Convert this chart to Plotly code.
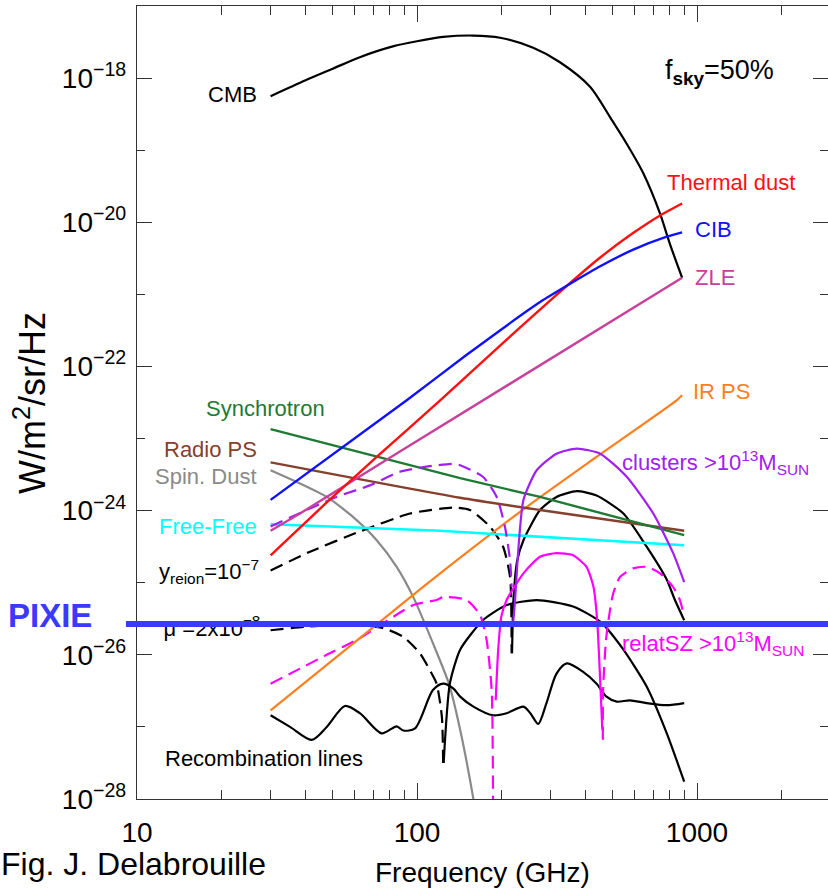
import plotly.graph_objects as go

# ---------------- data (frequency in GHz, brightness in W/m2/sr/Hz) ----------------
cmb_f = [30, 40, 50, 62.5, 82, 100, 124, 159, 198, 260, 324, 415, 489, 561, 643, 738, 800, 885]
cmb_v = [5.62e-19, 9.33e-19, 1.35e-18, 1.95e-18, 2.75e-18, 3.24e-18, 3.72e-18, 3.89e-18, 3.63e-18,
         2.63e-18, 1.66e-18, 7.59e-19, 2.88e-19, 1.23e-19, 4.79e-20, 1.32e-20, 5.01e-21, 1.70e-21]

dust_f = [30, 47.6, 71.8, 121, 198, 300, 451, 591, 738, 885]
dust_v = [2.40e-25, 1.30e-24, 5.56e-24, 3.39e-23, 1.95e-22, 8.32e-22, 3.24e-21, 7.08e-21, 1.245e-20, 1.82e-20]

cib_f = [30, 91.9, 150.5, 282, 451, 592, 780, 885]
cib_v = [1.41e-24, 3.39e-23, 1.45e-22, 8.32e-22, 2.45e-21, 4.17e-21, 6.31e-21, 7.24e-21]

zle_f = [30, 38.2, 86.9, 661, 885]
zle_v = [5.25e-25, 9.12e-25, 6.61e-24, 8.32e-22, 1.70e-21]

irps_f = [30, 91.9, 121, 246, 432, 846, 885]
irps_v = [1.70e-27, 5.75e-26, 1.35e-25, 1.12e-24, 5.37e-24, 3.39e-23, 3.98e-23]

sync_f = [30, 142.6, 275, 900]
sync_v = [1.35e-23, 2.82e-24, 1.55e-24, 4.57e-25]

radio_f = [30, 142.6, 275, 900]
radio_v = [4.68e-24, 1.51e-24, 1.02e-24, 5.25e-25]

ff_f = [30, 121, 900]
ff_v = [6.46e-25, 5.25e-25, 3.31e-25]

spin_f = [30, 36.1, 47.6, 59.2, 71.8, 84.6, 97, 114, 130, 142.6, 159, 165]
spin_v = [3.63e-24, 2.63e-24, 1.55e-24, 8.13e-25, 3.89e-25, 1.66e-25, 6.31e-26, 1.45e-26,
          3.98e-27, 9.12e-28, 1.00e-28, 3.98e-29]

yneg_f = [30, 41.5, 62.5, 94.4, 135, 154.5, 182, 203, 215, 217.7]
yneg_v = [1.48e-25, 2.69e-25, 5.13e-25, 9.12e-25, 1.10e-24, 1.02e-24, 6.03e-25, 3.16e-25, 1.20e-25, 1.05e-26]

ypos_f = [218.5, 221, 228, 240, 275, 315, 372, 438, 546, 661, 780, 834, 900]
ypos_v = [1.05e-26, 5.75e-26, 2.04e-25, 3.89e-25, 1.02e-24, 1.55e-24, 1.86e-24, 1.62e-24,
          9.12e-25, 3.16e-25, 1.10e-25, 5.75e-26, 3.02e-26]

muneg_f = [30, 40, 50, 62, 76, 89.3, 102.5, 111, 117.5, 122.7, 124]
muneg_v = [2.19e-26, 2.45e-26, 2.57e-26, 2.57e-26, 2.34e-26, 1.78e-26, 1.05e-26, 6.17e-27,
           3.98e-27, 1.38e-27, 3.16e-28]

mupos_f = [124.5, 131, 142.6, 172, 209, 267.6, 361, 451, 546, 661, 780, 900]
mupos_v = [3.16e-28, 3.98e-27, 1.18e-26, 3.02e-26, 4.90e-26, 5.75e-26, 4.68e-26, 2.88e-26,
           1.18e-26, 3.63e-27, 8.13e-28, 1.74e-28]

clneg_f = [30, 51.6, 67.9, 86.9, 108, 135, 142.6, 172, 192.6, 206, 215, 217.7]
clneg_v = [6.03e-25, 1.55e-24, 2.24e-24, 3.47e-24, 4.07e-24, 4.47e-24, 4.27e-24, 2.95e-24,
           1.55e-24, 6.03e-25, 2.04e-25, 8.71e-26]

clpos_f = [220, 224, 230, 240, 267.6, 315, 372, 451, 561, 698, 822, 900]
clpos_v = [2.51e-26, 5.75e-26, 2.82e-25, 1.41e-24, 3.63e-24, 6.17e-24, 7.24e-24, 6.17e-24,
           2.95e-24, 9.12e-25, 2.57e-25, 1.02e-25]

rsz1_f = [30, 36.1, 47.6, 62.5, 97, 117.5, 124, 150.5, 168, 177.4, 184.8, 186.5, 187]
rsz1_v = [3.98e-27, 5.75e-27, 1.00e-26, 1.70e-26, 4.90e-26, 5.75e-26, 6.31e-26, 5.75e-26,
          3.55e-26, 1.58e-26, 3.24e-27, 3.89e-28, 5.01e-29]

rsz2_f = [191, 195, 200, 209, 240, 275, 315, 361, 403, 427, 440, 451, 459]
rsz2_v = [2.34e-27, 1.18e-26, 3.39e-26, 5.75e-26, 1.35e-25, 2.29e-25, 2.57e-25, 2.40e-25,
          1.66e-25, 8.71e-26, 3.02e-26, 4.47e-27, 9.12e-28]

rsz3_f = [461, 462, 473, 489, 502, 531, 592, 661, 738, 822, 869, 899]
rsz3_v = [6.61e-28, 3.24e-27, 1.58e-26, 4.17e-26, 7.08e-26, 1.20e-25, 1.58e-25, 1.66e-25,
          1.35e-25, 8.71e-26, 5.75e-26, 3.39e-26]

rec_f = [30, 35.2, 42.1, 47.6, 55.3, 62.5, 74.8, 84.6, 89.3, 98.4, 114, 124, 135, 142.6, 159, 187,
         209, 240, 254, 271, 290, 315, 343, 393, 438, 475, 517, 576, 661, 780, 900]
rec_v = [1.45e-27, 1.00e-27, 6.61e-28, 1.00e-27, 1.95e-27, 1.55e-27, 8.13e-28, 1.02e-27, 8.91e-28,
         9.55e-28, 3.24e-27, 3.98e-27, 3.39e-27, 2.63e-27, 1.91e-27, 1.45e-27, 1.55e-27, 1.91e-27,
         1.55e-27, 1.10e-27, 2.14e-27, 5.50e-27, 7.59e-27, 5.75e-27, 3.98e-27, 2.63e-27, 2.24e-27,
         2.34e-27, 2.14e-27, 2.00e-27, 2.14e-27]

pixie_level = 2.67e-26

y_tick_vals = [1e-28, 1e-26, 1e-24, 1e-22, 1e-20, 1e-18]
y_tick_text = ["10<sup>\u221228</sup>", "10<sup>\u221226</sup>", "10<sup>\u221224</sup>",
               "10<sup>\u221222</sup>", "10<sup>\u221220</sup>", "10<sup>\u221218</sup>"]
y_minor_vals = [1e-27, 1e-25, 1e-23, 1e-21, 1e-19, 1e-17]
x_tick_vals = [10, 100, 1000]
x_tick_text = ["10", "100", "1000"]
x_minor_vals = [20, 30, 40, 50, 60, 70, 80, 90, 200, 300, 400, 500, 600, 700, 800, 900, 2000]

# ---------------- styling ----------------
W, H = 828, 890
ML, MR, MT, MB = 137, 0, 6, 91
FONT = "Liberation Sans, Arial, sans-serif"

C_BLACK = "#000000"
C_RED = "#ff1010"
C_BLUE = "#1010ff"
C_ZLE = "#c8409c"
C_ORANGE = "#ff7f20"
C_GREEN = "#1f7a33"
C_BROWN = "#86402e"
C_GRAY = "#8a8a8a"
C_CYAN = "#00ffff"
C_PURPLE = "#a020f0"
C_MAGENTA = "#ff00ff"
C_PIXIE = "#3a3aff"

fig = go.Figure()


def add_line(f, v, color, width=2.3, dash=None, shape="spline", smoothing=0.6):
    fig.add_trace(go.Scatter(
        x=f, y=v, mode="lines",
        line=dict(color=color, width=width, dash=dash, shape=shape,
                  smoothing=smoothing if shape == "spline" else None),
        hoverinfo="skip", showlegend=False))


DASH = "13px,7px"

add_line(cmb_f, cmb_v, C_BLACK, 2.2, smoothing=0.8)
add_line(spin_f, spin_v, C_GRAY, 2.2)
add_line(rec_f, rec_v, C_BLACK, 2.2, smoothing=0.8)
add_line(muneg_f, muneg_v, C_BLACK, 2.2, DASH)
add_line(mupos_f, mupos_v, C_BLACK, 2.2)
add_line(yneg_f, yneg_v, C_BLACK, 2.2, DASH)
add_line(ypos_f, ypos_v, C_BLACK, 2.2)
add_line(rsz1_f, rsz1_v, C_MAGENTA, 2.2, DASH)
add_line(rsz2_f, rsz2_v, C_MAGENTA, 2.2)
add_line(rsz3_f, rsz3_v, C_MAGENTA, 2.2, DASH)
add_line(irps_f, irps_v, C_ORANGE, 2.2)
add_line(ff_f, ff_v, C_CYAN, 2.6, shape="linear")
add_line(radio_f, radio_v, C_BROWN, 2.4)
add_line(sync_f, sync_v, C_GREEN, 2.4, shape="linear")
add_line(clneg_f, clneg_v, C_PURPLE, 2.2, DASH)
add_line(clpos_f, clpos_v, C_PURPLE, 2.2)
add_line(zle_f, zle_v, C_ZLE, 2.4, shape="linear")
add_line(dust_f, dust_v, C_RED, 2.4, smoothing=0.5)
add_line(cib_f, cib_v, C_BLUE, 2.4, smoothing=0.5)

# mu label as a text trace so the PIXIE line can be drawn over it
fig.add_trace(go.Scatter(
    x=[27.6], y=[2.2e-26], mode="text",
    text=["\u03bc =2x10<sup>\u22128</sup>"], textposition="middle left",
    textfont=dict(family=FONT, size=22, color=C_BLACK),
    cliponaxis=False, hoverinfo="skip", showlegend=False))

# PIXIE sensitivity line
fig.add_shape(type="line", xref="paper", yref="y", x0=-0.016, x1=1.0,
              y0=pixie_level, y1=pixie_level, layer="above",
              line=dict(color=C_PIXIE, width=6))

PW = W - ML - MR
PH = H - MT - MB


def xp(px):
    return (px - ML) / PW


def yp(py):
    return (H - MB - py) / PH


def label(text, px, py, color, size=22, anchor="left", family=FONT):
    fig.add_annotation(text=text, x=xp(px), y=yp(py), xref="paper", yref="paper",
                       xanchor=anchor, yanchor="middle", showarrow=False, borderpad=0,
                       font=dict(family=family, size=size, color=color))


label("CMB", 258, 95, C_BLACK, anchor="right")
label("f<sub><b>sky</b></sub>=50%", 664, 72, C_BLACK, size=27)
label("Thermal dust", 666, 183, C_RED)
label("CIB", 694, 230, C_BLUE)
label("ZLE", 694, 277, C_ZLE)
label("IR PS", 692, 392, C_ORANGE)
label("clusters &gt;10<sup>13</sup>M<sub>SUN</sub>", 621, 462, C_PURPLE)
label("relatSZ &gt;10<sup>13</sup>M<sub>SUN</sub>", 621, 643, C_MAGENTA)
label("Synchrotron", 205, 408, C_GREEN)
label("Radio PS", 258, 449, C_BROWN, anchor="right")
label("Spin. Dust", 258, 476, C_GRAY, anchor="right")
label("Free-Free", 258, 526, C_CYAN, anchor="right")
label("y<sub>reion</sub>=10<sup>\u22127</sup>", 260, 572, C_BLACK, anchor="right")
label("Recombination lines", 164, 758, C_BLACK)
label("<b>PIXIE</b>", 7, 615, C_PIXIE, size=33)
label("Fig. J. Delabrouille", 0, 864, C_BLACK, size=32)
label("Frequency (GHz)", 482, 872, C_BLACK, size=28, anchor="center")

fig.add_annotation(text="W/m<sup>2</sup>/sr/Hz", x=xp(30), y=yp(403), xref="paper", yref="paper",
                   xanchor="center", yanchor="middle", textangle=-90, showarrow=False,
                   font=dict(family=FONT, size=36, color=C_BLACK))

AXC = "#333333"
fig.update_layout(
    width=W, height=H,
    margin=dict(l=ML, r=MR, t=MT, b=MB, pad=0),
    paper_bgcolor="white", plot_bgcolor="white",
    showlegend=False,
    xaxis=dict(type="log", range=[1, 1 + PW / 280.0], showgrid=False, zeroline=False,
               showline=True, linecolor=AXC, linewidth=1.3, mirror="allticks",
               ticks="inside", ticklen=16, tickwidth=1.3, tickcolor=AXC,
               tickmode="array", tickvals=x_tick_vals, ticktext=x_tick_text,
               tickfont=dict(family=FONT, size=28, color=C_BLACK), ticklabelstandoff=8,
               minor=dict(tickmode="array", tickvals=x_minor_vals, ticks="inside",
                          ticklen=9, tickwidth=1.3, tickcolor=AXC, showgrid=False)),
    yaxis=dict(type="log", range=[-28, -17], showgrid=False, zeroline=False,
               showline=True, linecolor=AXC, linewidth=1.3, mirror="allticks",
               ticks="inside", ticklen=15, tickwidth=1.3, tickcolor=AXC,
               tickmode="array", tickvals=y_tick_vals, ticktext=y_tick_text,
               tickfont=dict(family=FONT, size=28, color=C_BLACK), ticklabelstandoff=4,
               minor=dict(tickmode="array", tickvals=y_minor_vals, ticks="inside",
                          ticklen=8, tickwidth=1.3, tickcolor=AXC, showgrid=False)),
)

fig.write_html("out.html")
